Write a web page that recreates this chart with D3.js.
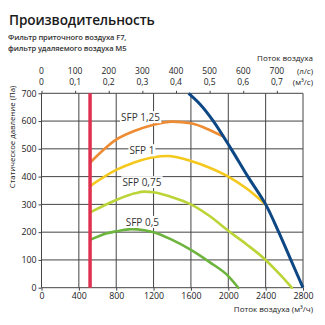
<!DOCTYPE html>
<html>
<head>
<meta charset="utf-8">
<script src="https://cdn.jsdelivr.net/npm/d3@7/dist/d3.min.js"></script>
<style>
  html, body { margin: 0; padding: 0; background: #fff; }
  svg { display: block; font-family: "Open Sans", "Noto Sans", sans-serif; }
</style>
</head>
<body>
<svg id="chart" width="325" height="325"></svg>
<script>
// Airflow (m³/h) vs static pressure (Pa)
const xTicks = [0, 400, 800, 1200, 1600, 2000, 2400, 2800];
const yTicks = [0, 100, 200, 300, 400, 500, 600, 700];
const lsTicks = [0, 100, 200, 300, 400, 500, 600, 700];
const m3sLabels = ["0", "0,1", "0,2", "0,3", "0,4", "0,5", "0,6", "0,7"];

const minFlow = 520; // m³/h, lower limit line

const sfp125 = [[520,450],[800,533],[1000,565],[1200,587],[1400,598],[1600,592],[1800,568],[1950,544]];
const sfp100 = [[520,366],[800,424],[1000,452],[1200,470],[1350,474],[1600,456],[1800,432],[2000,400],[2200,356],[2410,296]];
const sfp075 = [[520,271],[800,316],[1000,340],[1100,346],[1200,344],[1400,326],[1600,300],[1800,258],[2000,205],[2200,155],[2400,100],[2560,45],[2680,0]];
const sfp050 = [[520,172],[700,196],[800,203],[960,211],[1100,207],[1200,200],[1400,172],[1600,136],[1800,92],[2000,42],[2107,0]];
const fanMax = [[1575,700],[1700,660],[1840,600],[2030,500],[2210,400],[2400,300],[2540,200],[2670,100],[2800,0]];

const seriesNames = ["SFP 1,25", "SFP 1", "SFP 0,75", "SFP 0,5"];
const seriesData = [sfp125, sfp100, sfp075, sfp050];
const seriesColors = ["#ee8c33", "#f5c81e", "#bcd437", "#6cb43d"];
const labelAnchors = [[1060, 614], [1075, 495], [1075, 380], [1080, 237]];

const svg = d3.select("#chart");
const plotL = 41.5, plotR = 303, plotT = 93.3, plotB = 287.7;

const x = d3.scaleLinear().domain([0, 2800]).range([plotL, plotR]);
const y = d3.scaleLinear().domain([0, 700]).range([plotB, plotT]);
const xls = d3.scaleLinear().domain([0, 2800 / 3.6]).range([plotL, plotR]);

// Title and subtitle
svg.append("text").attr("x", 9).attr("y", 25)
  .attr("font-size", 13.6).attr("font-weight", 600).attr("fill", "#1a1a1a")
  .attr("letter-spacing", -0.1)
  .text("Производительность");
svg.append("text").attr("x", 8).attr("y", 39.5)
  .attr("font-size", 7.6).attr("font-weight", 600).attr("fill", "#333")
  .attr("letter-spacing", -0.12).text("Фильтр приточного воздуха F7,");
svg.append("text").attr("x", 8).attr("y", 51)
  .attr("font-size", 7.6).attr("font-weight", 600).attr("fill", "#333")
  .attr("letter-spacing", -0.12).text("фильтр удаляемого воздуха M5");

// Grid
const grid = svg.append("g").attr("stroke", "#444").attr("stroke-width", 1);
grid.selectAll("line.v").data(xTicks.slice(1)).join("line")
  .attr("x1", d => x(d)).attr("x2", d => x(d)).attr("y1", plotT).attr("y2", plotB);
grid.selectAll("line.h").data(yTicks.slice(1)).join("line")
  .attr("x1", plotL).attr("x2", plotR).attr("y1", d => y(d)).attr("y2", d => y(d));

// Bottom axis (m³/h)
const xAxis = svg.append("g").attr("transform", `translate(0,${plotB})`)
  .call(d3.axisBottom(x).tickValues(xTicks).tickFormat(d3.format("d")).tickSize(3).tickPadding(2));
// Left axis (Pa)
const yAxis = svg.append("g").attr("transform", `translate(${plotL},0)`)
  .call(d3.axisLeft(y).tickValues(yTicks).tickFormat(d3.format("d")).tickSize(3).tickPadding(2));
// Top axis (l/s) — tick marks only, labels drawn in two rows
const topAxis = svg.append("g").attr("transform", `translate(0,${plotT})`)
  .call(d3.axisTop(xls).tickValues(lsTicks).tickSize(2.5).tickFormat(""));
topAxis.select(".domain").remove();

[xAxis, yAxis, topAxis].forEach(g => {
  g.selectAll(".domain").attr("stroke", "#444");
  g.selectAll(".tick line").attr("stroke", "#444");
  g.selectAll("text").attr("font-size", 8.8).attr("fill", "#222")
    .attr("font-family", "'Open Sans', 'Noto Sans', sans-serif");
});
xAxis.select(".domain").attr("d", `M${plotL},0H${plotR}`);
yAxis.select(".domain").attr("d", `M0,${plotB}V${plotT}`);

svg.append("g").selectAll("text").data(lsTicks).join("text")
  .attr("x", d => xls(d)).attr("y", 73.5).attr("text-anchor", "middle")
  .attr("font-size", 8.5).attr("fill", "#222").text(d => d);
svg.append("g").selectAll("text").data(lsTicks).join("text")
  .attr("x", d => xls(d)).attr("y", 85).attr("text-anchor", "middle")
  .attr("font-size", 8.5).attr("fill", "#222").text((d, i) => m3sLabels[i]);
svg.append("text").attr("x", 313).attr("y", 73.5).attr("text-anchor", "end")
  .attr("font-size", 8).attr("fill", "#222").text("(л/с)");
svg.append("text").attr("x", 313).attr("y", 85).attr("text-anchor", "end")
  .attr("font-size", 8).attr("fill", "#222").text("(м³/с)");
svg.append("text").attr("x", 313).attr("y", 61).attr("text-anchor", "end")
  .attr("font-size", 8).attr("fill", "#222").text("Поток воздуха");

// Axis titles
svg.append("text").attr("x", 313).attr("y", 312).attr("text-anchor", "end")
  .attr("font-size", 8).attr("fill", "#222").text("Поток воздуха (м³/ч)");
svg.append("text").attr("transform", "translate(15,137) rotate(-90)")
  .attr("text-anchor", "middle").attr("font-size", 7.8).attr("fill", "#222")
  .text("Статическое давление (Па)");

// SFP curves
const line = d3.line().x(d => x(d[0])).y(d => y(d[1])).curve(d3.curveMonotoneX);
seriesData.forEach((data, i) => {
  svg.append("path").datum(data).attr("d", line)
    .attr("fill", "none").attr("stroke", seriesColors[i]).attr("stroke-width", 2.6)
    .attr("stroke-linecap", "round");
});

// Maximum fan curve
svg.append("path").datum(fanMax).attr("d", d3.line().x(d => x(d[0])).y(d => y(d[1])).curve(d3.curveCatmullRom))
  .attr("fill", "none").attr("stroke", "#0d4885").attr("stroke-width", 3);

// Minimum airflow limit
svg.append("line").attr("x1", x(minFlow)).attr("x2", x(minFlow))
  .attr("y1", y(0)).attr("y2", y(700))
  .attr("stroke", "#e0304f").attr("stroke-width", 3.5);

// Curve labels
seriesNames.forEach((name, i) => {
  const [fx, fp] = labelAnchors[i];
  const g = svg.append("g");
  const t = g.append("text").attr("x", x(fx)).attr("y", y(fp))
    .attr("text-anchor", "middle").attr("dominant-baseline", "central")
    .attr("font-size", 10).attr("fill", "#333").text(name);
  const bb = t.node().getBBox();
  g.insert("rect", "text").attr("x", bb.x - 1).attr("y", bb.y + 1)
    .attr("width", bb.width + 2).attr("height", bb.height - 2).attr("fill", "#fff");
});
</script>
</body>
</html>
